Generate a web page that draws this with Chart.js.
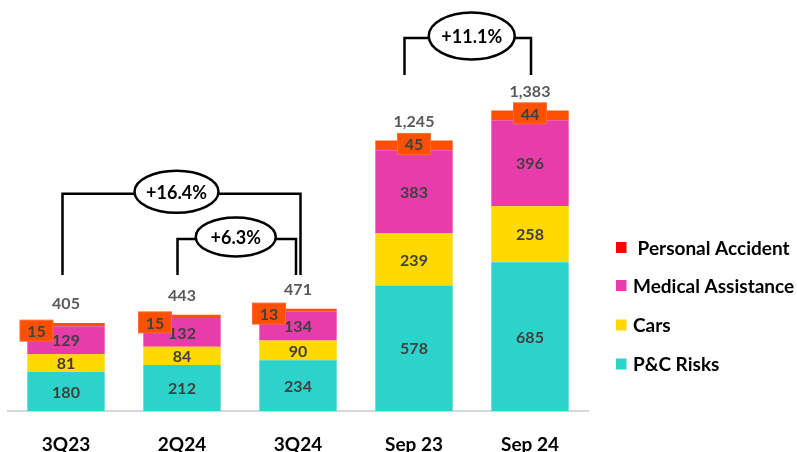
<!DOCTYPE html>
<html>
<head>
<meta charset="utf-8">
<script src="https://cdn.jsdelivr.net/npm/chart.js@4.4.1/dist/chart.umd.min.js"></script>
<style>
  html, body { margin: 0; padding: 0; background: #fff; }
  #wrap { width: 797px; height: 452px; overflow: hidden; }
</style>
</head>
<body>
<div id="wrap"><canvas id="premiums" width="797" height="452"></canvas></div>
<script>
const categories = ["3Q23", "2Q24", "3Q24", "Sep 23", "Sep 24"];
const pcRisks = [180, 212, 234, 578, 685];
const cars = [81, 84, 90, 239, 258];
const medical = [129, 132, 134, 383, 396];
const personalAccident = [15, 15, 13, 45, 44];
const totals = [405, 443, 471, 1245, 1383];
const growthLabels = ["+16.4%", "+6.3%", "+11.1%"];

const FONT = "Lato, 'Open Sans', sans-serif";

// where the little orange value boxes sit relative to their segment
const paShift = [[-29.5, 6], [-27, 6], [-29, 3.5], [0, -1.5], [0, -2]];

// brackets: from/to bar index, line level & foot (in data units), ellipse size
const brackets = [
  { from: 0, to: 2, level: 1000, foot: 626, dl: -3.5, dr: 2.5, dx: -5, w: 84, h: 42 },
  { from: 1, to: 2, level: 792, foot: 626, dl: -4.5, dr: -2, dx: -1, w: 80, h: 39 },
  { from: 3, to: 4, level: 1717, foot: 1547, dl: -9.5, dr: 1, dx: 4, w: 86, h: 47 },
];

const legendColors = ["#FF0000", "#E63DAB", "#FFD900", "#2CD3CA"];

const valuePlugin = {
  id: "valueLabels",
  afterDatasetsDraw(chart) {
    const ctx = chart.ctx;
    ctx.save();
    ctx.textAlign = "center";
    ctx.textBaseline = "middle";
    ctx.font = "bold 16px " + FONT;
    for (let d = 0; d < 3; d++) {
      chart.getDatasetMeta(d).data.forEach((bar, i) => {
        ctx.fillStyle = "#404040";
        ctx.fillText(chart.data.datasets[d].data[i], bar.x, (bar.y + bar.base) / 2 + 1);
      });
    }
    chart.getDatasetMeta(3).data.forEach((bar, i) => {
      const cx = bar.x + paShift[i][0];
      const cy = (bar.y + bar.base) / 2 + paShift[i][1];
      ctx.fillStyle = "#FF5000";
      ctx.fillRect(cx - 16.5, cy - 10.5, 33, 21);
      ctx.strokeStyle = "#FF6A30";
      ctx.lineWidth = 1;
      ctx.strokeRect(cx - 16.5, cy - 10.5, 33, 21);
      ctx.fillStyle = "#404040";
      ctx.fillText(personalAccident[i], cx, cy + 1);
      // total on top
      ctx.fillStyle = "#595959";
      ctx.fillText(totals[i].toLocaleString("en-US"), bar.x, bar.y - 19);
    });
    ctx.restore();
  },
  afterDraw(chart) {
    const ctx = chart.ctx;
    const y = chart.scales.y;
    const bars = chart.getDatasetMeta(0).data;
    ctx.save();
    // growth brackets
    ctx.strokeStyle = "#000";
    ctx.lineWidth = 2.5;
    brackets.forEach((b, k) => {
      const xl = bars[b.from].x + b.dl;
      const xr = bars[b.to].x + b.dr;
      const yl = y.getPixelForValue(b.level);
      const yf = y.getPixelForValue(b.foot);
      ctx.beginPath();
      ctx.moveTo(xl, yf); ctx.lineTo(xl, yl); ctx.lineTo(xr, yl); ctx.lineTo(xr, yf);
      ctx.stroke();
      const ex = (xl + xr) / 2 + b.dx;
      ctx.beginPath();
      ctx.ellipse(ex, yl - 2, b.w / 2, b.h / 2, 0, 0, Math.PI * 2);
      ctx.fillStyle = "#fff";
      ctx.fill();
      ctx.stroke();
      ctx.fillStyle = "#000";
      ctx.font = "bold 18px " + FONT;
      ctx.textAlign = "center";
      ctx.textBaseline = "middle";
      ctx.fillText(growthLabels[k], ex, yl - 1);
    });
    // legend, top to bottom = last dataset first
    const rows = [247.5, 285.5, 325, 364];
    ctx.font = "bold 19px " + FONT;
    ctx.textAlign = "left";
    ctx.textBaseline = "middle";
    chart.data.datasets.slice().reverse().forEach((ds, i) => {
      ctx.fillStyle = legendColors[i];
      ctx.fillRect(616, rows[i] - 5.5, 10.5, 11);
      ctx.fillStyle = "#000";
      ctx.fillText(ds.label, 633, rows[i] + 1);
    });
    ctx.restore();
  }
};

new Chart("premiums", {
  type: "bar",
  data: {
    labels: categories,
    datasets: [
      { label: "P&C Risks", data: pcRisks, backgroundColor: "#2CD3CA" },
      { label: "Cars", data: cars, backgroundColor: "#FFD900" },
      { label: "Medical Assistance", data: medical, backgroundColor: "#E63DAB" },
      { label: " Personal Accident", data: personalAccident, backgroundColor: "#FF5000" },
    ],
  },
  options: {
    responsive: false,
    animation: false,
    layout: { padding: { top: 20, left: 8, right: 209, bottom: 0 } },
    datasets: { bar: { categoryPercentage: 1, barPercentage: 0.667 } },
    plugins: { legend: { display: false }, tooltip: { enabled: false } },
    scales: {
      x: {
        stacked: true,
        grid: { display: false, drawTicks: false },
        border: { color: "#D9D9D9", width: 2 },
        ticks: { color: "#000", font: { family: FONT, weight: "bold", size: 19 }, padding: 22 },
        afterFit: (s) => { s.height = 41; },
      },
      y: { stacked: true, display: false, min: 0, max: 1800 },
    },
  },
  plugins: [valuePlugin],
});
</script>
</body>
</html>
